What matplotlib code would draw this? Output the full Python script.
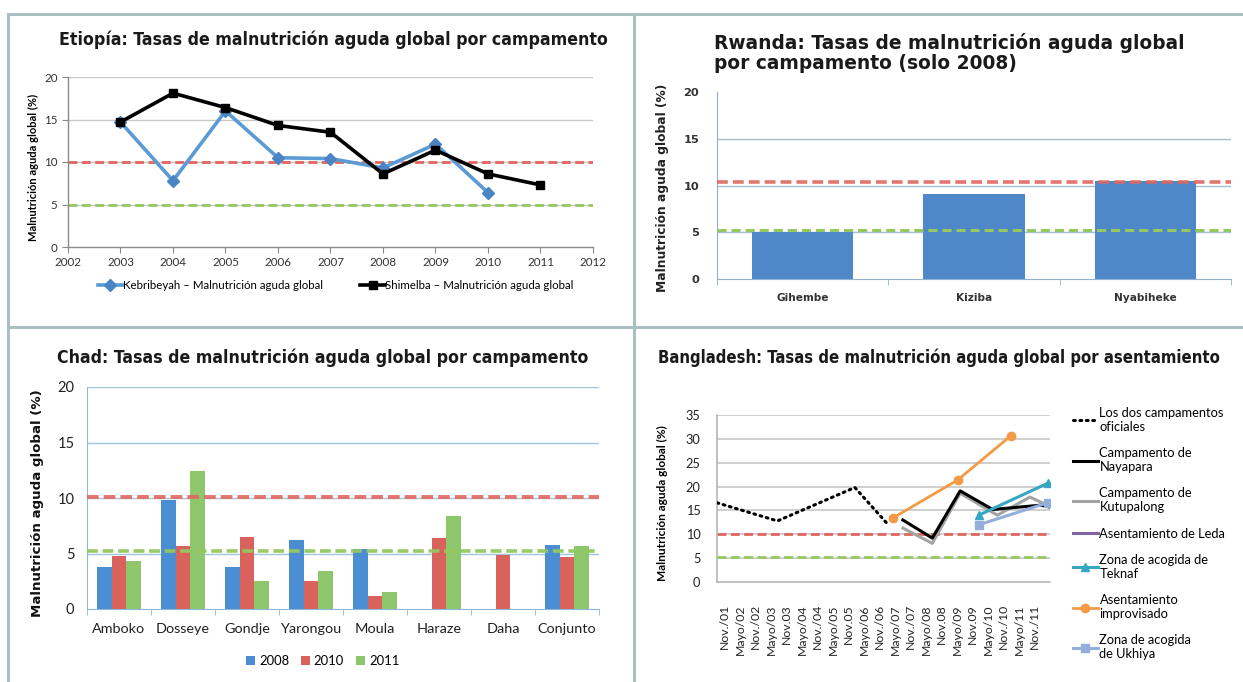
import matplotlib
matplotlib.use('Agg')
import matplotlib.pyplot as plt
from matplotlib import font_manager as fm
from matplotlib.font_manager import FontProperties
from matplotlib.lines import Line2D
import numpy as np

nan = np.nan
# ---------------- data ----------------
eti_years = [2003, 2004, 2005, 2006, 2007, 2008, 2009, 2010, 2011]
eti_kebribeyah = [14.7, 7.8, 16.0, 10.5, 10.4, 9.3, 12.1, 6.4, nan]
eti_shimelba = [14.7, 18.1, 16.4, 14.3, 13.5, 8.6, 11.4, 8.6, 7.3]

rw_camps = ['Gihembe', 'Kiziba', 'Nyabiheke']
rw_values = [5.05, 9.1, 10.5]

chad_camps = ['Amboko', 'Dosseye', 'Gondje', 'Yarongou', 'Moula', 'Haraze', 'Daha', 'Conjunto']
chad_2008 = [3.8, 9.8, 3.8, 6.2, 5.4, nan, nan, 5.8]
chad_2010 = [4.8, 5.7, 6.5, 2.5, 1.2, 6.4, 4.9, 4.65]
chad_2011 = [4.3, 12.4, 2.5, 3.4, 1.5, 8.4, nan, 5.65]

bd_periods = ['Nov./01', 'Mayo/02', 'Nov./02', 'Mayo/03', 'Nov.03', 'Mayo/04', 'Nov./04',
              'Mayo/05', 'Nov.05', 'Mayo/06', 'Nov./06', 'Mayo/07', 'Nov./07', 'Mayo/08',
              'Nov.08', 'Mayo/09', 'Nov.09', 'Mayo/10', 'Nov./10', 'Mayo/11', 'Nov./11']
# positions measured along the period axis (fractional period index) and values (%)
bd_oficiales_pos = [-0.5, 3.4, 8.4, 10.5]
bd_oficiales = [16.6, 12.8, 19.8, 12.2]
bd_nayapara_pos = [11.5, 13.4, 15.2, 17.3, 20.4, 21.0]
bd_nayapara = [13.0, 9.2, 19.1, 15.2, 16.1, 15.7]
bd_kutupalong_pos = [11.5, 13.4, 15.2, 17.6, 19.7, 20.5]
bd_kutupalong = [11.3, 8.1, 18.6, 14.0, 17.8, 16.6]
bd_leda_pos = []
bd_leda = []
bd_teknaf_pos = [16.4, 20.85]
bd_teknaf = [14.0, 20.7]
bd_improvisado_pos = [10.85, 15.05, 18.45]
bd_improvisado = [13.4, 21.4, 30.6]
bd_ukhiya_pos = [16.4, 20.85]
bd_ukhiya = [12.0, 16.6]

# thresholds
umbral_emergencia = 10
umbral_aceptable = 5

# ---------------- fonts ----------------
def find_font(pred):
    for f in fm.fontManager.ttflist:
        if pred(f):
            return f.fname
    return None

cond_bold = find_font(lambda f: f.name == 'DejaVu Sans' and 'Condensed' in f.fname
                      and 'Bold' in f.fname and 'Oblique' not in f.fname)

def title_fp(size):
    if cond_bold:
        return FontProperties(fname=cond_bold, size=size)
    return FontProperties(family='DejaVu Sans', weight='bold', size=size * 0.9)

BODY = 'Lato'
VERD = 'DejaVu Sans'
plt.rcParams['font.family'] = [BODY, 'DejaVu Sans']

W, H = 1243, 682
fig = plt.figure(figsize=(W / 100, H / 100), dpi=100)
fig.patch.set_facecolor('white')

def ax_px(l, t, r, b):
    return fig.add_axes([l / W, 1 - b / H, (r - l) / W, (b - t) / H])

def fx(x):
    return x / W

def fy(y):
    return 1 - y / H

RED = '#e0675f'
GREEN = '#95c85e'

# ---------------- borders ----------------
bc = '#aabfbf'
for (x0, y0, x1, y1) in [(8, 14, 1243, 14), (8, 14, 8, 682), (634, 14, 634, 682),
                         (8, 327, 1243, 327)]:
    fig.add_artist(Line2D([fx(x0), fx(x1)], [fy(y0), fy(y1)], color=bc, lw=2.2))

# ---------------- Etiopía ----------------
ax = ax_px(68, 77, 593, 247)
ax.set_xlim(2002, 2012)
ax.set_ylim(0, 20)
ax.set_yticks(range(0, 21, 5))
ax.set_xticks(range(2002, 2013))
for v in range(5, 21, 5):
    ax.axhline(v, color='#c8c8c8', lw=1, zorder=0)
for s in ['top', 'right']:
    ax.spines[s].set_visible(False)
for s in ['left', 'bottom']:
    ax.spines[s].set_color('#8a8a8a')
    ax.spines[s].set_linewidth(1)
ax.tick_params(axis='both', colors='#8a8a8a', labelcolor='#333333', labelsize=8.4,
               length=4, direction='out')
ax.axhline(umbral_emergencia, color=RED, lw=2, dashes=(3.2, 1.6), zorder=1)
ax.axhline(umbral_aceptable, color=GREEN, lw=2, dashes=(3.2, 1.6), zorder=1)
l1, = ax.plot(eti_years, eti_kebribeyah, color='#5b9bd5', lw=2.6, marker='D', ms=6,
              mfc='#4a84c4', mec='#4a84c4', zorder=3,
              label='Kebribeyah – Malnutrición aguda global')
l2, = ax.plot(eti_years, eti_shimelba, color='black', lw=2.6, marker='s', ms=6,
              zorder=4, label='Shimelba – Malnutrición aguda global')
ax.legend(handles=[l1, l2], loc='center', bbox_to_anchor=(0.51, -0.225), ncol=2,
          frameon=False, fontsize=8.3, handlelength=2.2, columnspacing=3.2,
          handletextpad=0.0)
fig.text(fx(33), fy(167), 'Malnutrición aguda global (%)', rotation=90, ha='center',
         va='center', fontsize=8.0, fontweight='bold', color='black')
fig.text(fx(333), fy(40), 'Etiopía: Tasas de malnutrición aguda global por campamento',
         ha='center', va='center', fontproperties=title_fp(12.7), color='#1a1a1a')

# ---------------- Rwanda ----------------
ax = ax_px(717, 92, 1231, 279)
x = np.arange(len(rw_camps))
ax.set_xlim(-0.5, len(rw_camps) - 0.5)
ax.set_ylim(0, 20)
ax.set_yticks(range(0, 21, 5))
for v in range(5, 20, 5):
    ax.axhline(v, color='#a9bfd0', lw=1, zorder=0)
ax.bar(x, rw_values, width=0.59, color='#4f88c9', zorder=2)
ax.axhline(10.35, color=RED, lw=2.6, dashes=(3.0, 1.4), zorder=3, alpha=0.9)
ax.axhline(5.2, color=GREEN, lw=2.2, dashes=(3.0, 1.6), zorder=3)
for s in ['top', 'right']:
    ax.spines[s].set_visible(False)
for s in ['left', 'bottom']:
    ax.spines[s].set_color('#8fb0d0')
ax.set_xticks(x)
ax.set_xticklabels(rw_camps)
ax.set_xticks(np.arange(-0.5, len(rw_camps)), minor=True)
ax.tick_params(axis='x', which='major', length=0, labelsize=7.6, labelcolor='#333333',
               pad=10)
ax.tick_params(axis='x', which='minor', length=4, color='#8fb0d0')
ax.tick_params(axis='y', length=0, labelsize=8.2, labelcolor='#333333', pad=13)
for t in ax.get_xticklabels() + ax.get_yticklabels():
    t.set_fontweight('bold')
    t.set_family(VERD)
fig.text(fx(662), fy(188), 'Malnutrición aguda global (%)', rotation=90, ha='center',
         va='center', fontsize=8.8, fontweight='bold', family=VERD, color='#222222')
fig.text(fx(714), fy(53), 'Rwanda: Tasas de malnutrición aguda global\npor campamento (solo 2008)',
         ha='left', va='center', fontsize=13.4, fontweight='bold', family=VERD,
         color='#1a1a1a', linespacing=1.08)

# ---------------- Chad ----------------
ax = ax_px(87, 387, 599, 609)
x = np.arange(len(chad_camps))
bw = 0.224
ax.set_xlim(-0.5, len(chad_camps) - 0.5)
ax.set_ylim(0, 20)
ax.set_yticks(range(0, 21, 5))
for v in range(5, 21, 5):
    ax.axhline(v, color='#9fc6dc', lw=1, zorder=0)
b1 = ax.bar(x - bw, chad_2008, width=bw, color='#4a8dd3', zorder=2, label='2008')
b2 = ax.bar(x, chad_2010, width=bw, color='#d9625c', zorder=2, label='2010')
b3 = ax.bar(x + bw, chad_2011, width=bw, color='#8dc66b', zorder=2, label='2011')
ax.axhline(10.1, color=RED, lw=2.8, dashes=(3.0, 1.3), zorder=3, alpha=0.9)
ax.axhline(5.2, color=GREEN, lw=2.6, dashes=(3.0, 1.3), zorder=3, alpha=0.95)
for s in ['top', 'right']:
    ax.spines[s].set_visible(False)
for s in ['left', 'bottom']:
    ax.spines[s].set_color('#8fb8d8')
ax.set_xticks(x)
ax.set_xticklabels(chad_camps)
ax.set_xticks(np.arange(-0.5, len(chad_camps)), minor=True)
ax.tick_params(axis='x', which='major', length=0, labelsize=10.4, labelcolor='#222222',
               pad=10)
ax.tick_params(axis='x', which='minor', length=4, color='#8fb8d8')
ax.tick_params(axis='y', length=0, labelsize=10.5, labelcolor='#222222', pad=9)
ax.legend(handles=[b1, b2, b3], loc='center', bbox_to_anchor=(0.46, -0.235), ncol=3,
          frameon=False, fontsize=9.4, handlelength=0.7, handleheight=0.7,
          handletextpad=0.3, columnspacing=0.9)
fig.text(fx(38), fy(503), 'Malnutrición aguda global (%)', rotation=90, ha='center',
         va='center', fontsize=9.6, fontweight='bold', family=VERD, color='#111111')
fig.text(fx(323), fy(358), 'Chad: Tasas de malnutrición aguda global por campamento',
         ha='center', va='center', fontproperties=title_fp(12.7), color='#1a1a1a')

# ---------------- Bangladesh ----------------
ax = ax_px(717, 415, 1050, 582)
ax.set_xlim(-0.5, 21.0)
ax.set_ylim(0, 35)
ax.set_yticks(range(0, 36, 5))
for v in range(5, 36, 5):
    ax.axhline(v, color='#c2c2c2', lw=1.1, zorder=0)
for s in ['top', 'right']:
    ax.spines[s].set_visible(False)
for s in ['left', 'bottom']:
    ax.spines[s].set_color('#b0b0b0')
    ax.spines[s].set_linewidth(1.1)
ax.axhline(umbral_emergencia, color=RED, lw=2, dashes=(3.2, 1.6), zorder=1)
ax.axhline(5.3, color=GREEN, lw=2, dashes=(3.2, 1.6), zorder=1)
h1, = ax.plot(bd_oficiales_pos, bd_oficiales, color='black', lw=2.2, ls=(0, (0.6, 1.5)),
              dash_capstyle='round', zorder=3, label='Los dos campamentos\noficiales')
h3, = ax.plot(bd_kutupalong_pos, bd_kutupalong, color='#a3a3a3', lw=2.2, zorder=3,
              label='Campamento de\nKutupalong')
h2, = ax.plot(bd_nayapara_pos, bd_nayapara, color='black', lw=2.2, zorder=4,
              label='Campamento de\nNayapara')
h4, = ax.plot(bd_leda_pos, bd_leda, color='#8064a2', lw=2.2, label='Asentamiento de Leda')
h5, = ax.plot(bd_teknaf_pos, bd_teknaf, color='#35a7c2', lw=2.2, marker='^', ms=6,
              zorder=5, label='Zona de acogida de\nTeknaf')
h6, = ax.plot(bd_improvisado_pos, bd_improvisado, color='#f39a45', lw=2.0, marker='o',
              ms=6, zorder=5, label='Asentamiento\nimprovisado')
h7, = ax.plot(bd_ukhiya_pos, bd_ukhiya, color='#93aedd', lw=2.2, marker='s', ms=6,
              zorder=5, label='Zona de acogida\nde Ukhiya')
ax.set_xticks(np.arange(len(bd_periods)))
ax.set_xticklabels(bd_periods, rotation=90, va='top', ha='center')
ax.tick_params(axis='x', length=0, labelsize=8.8, labelcolor='#222222', pad=16)
ax.tick_params(axis='y', length=0, labelsize=9.2, labelcolor='#222222', pad=12)
leg = ax.legend(handles=[h1, h2, h3, h4, h5, h6, h7], loc='upper left',
                bbox_to_anchor=(fx(1073), fy(407)), bbox_transform=fig.transFigure,
                frameon=False, fontsize=9.3, handlelength=1.9, handletextpad=0.15,
                labelspacing=1.1, borderaxespad=0, borderpad=0)
fig.text(fx(662), fy(503), 'Malnutrición aguda global (%)', rotation=90, ha='center',
         va='center', fontsize=8.6, fontweight='bold', color='black')
fig.text(fx(939), fy(358), 'Bangladesh: Tasas de malnutrición aguda global por asentamiento',
         ha='center', va='center', fontproperties=title_fp(12), color='#1a1a1a')

fig.savefig('out.png', dpi=100, facecolor='white')
